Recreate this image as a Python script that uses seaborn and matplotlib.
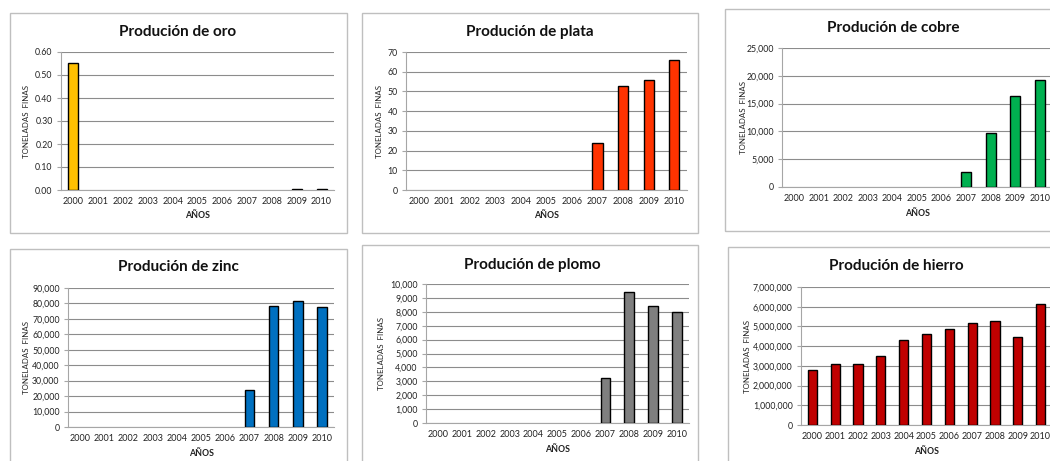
import matplotlib
matplotlib.use("Agg")
import matplotlib.pyplot as plt
from matplotlib.patches import Rectangle
from matplotlib.ticker import FuncFormatter, MultipleLocator
import pandas as pd
import seaborn as sns

years = ["2000", "2001", "2002", "2003", "2004", "2005",
         "2006", "2007", "2008", "2009", "2010"]

oro = [0.55, 0, 0, 0, 0, 0, 0, 0, 0, 0.004, 0.004]
plata = [0, 0, 0, 0, 0, 0, 0, 24, 53, 56, 66]
cobre = [0, 0, 0, 0, 0, 0, 0, 2700, 9700, 16400, 19250]
zinc = [0, 0, 0, 0, 0, 0, 0, 23900, 78300, 81800, 77400]
plomo = [0, 0, 0, 0, 0, 0, 0, 3250, 9450, 8400, 7950]
hierro = [2800000, 3100000, 3100000, 3525000, 4320000, 4640000,
          4860000, 5195000, 5280000, 4470000, 6160000]

sns.set_theme(style="white")
plt.rcParams["font.family"] = ["Lato", "DejaVu Sans"]

W, H = 1050, 461
fig = plt.figure(figsize=(W / 100, H / 100), dpi=100)
fig.patch.set_facecolor("white")


def fx(px):
    return px / W


def fy(py):
    return 1 - py / H


# (title, values, colour, y max, y step, formatter,
#  plot box [left, top, right, bottom] px, frame [left, top, right, bottom] px,
#  title centre x px, title y px, ylabel x px)
panels = [
    ("Produción de oro", oro, "#FFC000", 0.60, 0.10, "{:.2f}",
     (61, 52, 334, 190), (10, 13, 347, 233), 178, 32, 27),
    ("Produción de plata", plata, "#FF3300", 70, 10, "{:,.0f}",
     (406, 52, 687, 190), (362, 13, 698, 233), 530, 32, 380),
    ("Produción de cobre", cobre, "#00B050", 25000, 5000, "{:,.0f}",
     (782, 48, 1052, 187), (725, 9, 1070, 231), 893, 28, 743),
    ("Produción de zinc", zinc, "#0070C0", 90000, 10000, "{:,.0f}",
     (68, 288, 334, 427), (10, 249, 347, 480), 178, 267, 27),
    ("Produción de plomo", plomo, "#7F7F7F", 10000, 1000, "{:,.0f}",
     (426, 284, 689, 423), (362, 245, 698, 480), 532, 265, 382),
    ("Produción de hierro", hierro, "#C00000", 7000000, 1000000, "{:,.0f}",
     (801, 287, 1052, 425), (728, 247, 1070, 480), 896, 266, 747),
]

grid_c = "#8C8C8C"
axis_c = "#A6A6A6"

for (title, vals, col, ymax, step, fmt, pbox, frame, tx, ty, ylx) in panels:
    # chart frame
    fl, ft, fr, fb = frame
    fig.add_artist(Rectangle((fx(fl), fy(fb)), fx(fr - fl), (fb - ft) / H,
                             transform=fig.transFigure, fill=False,
                             edgecolor="#BFBFBF", linewidth=1.0))

    l, t, r, b = pbox
    ax = fig.add_axes([fx(l), fy(b), fx(r - l), (b - t) / H])
    df = pd.DataFrame({"year": years, "value": vals})
    df = df[df["value"] > 0]
    sns.barplot(data=df, x="year", y="value", order=years, color=col,
                width=0.4, edgecolor="black", linewidth=1.0,
                saturation=1, ax=ax, zorder=3)

    ax.set_xlim(-0.5, len(years) - 0.5)
    ax.set_ylim(0, ymax)
    ax.yaxis.set_major_locator(MultipleLocator(step))
    ax.yaxis.set_major_formatter(FuncFormatter(lambda v, p, f=fmt: f.format(v)))
    ax.set_facecolor("white")
    ax.grid(axis="y", color=grid_c, linewidth=0.8, zorder=0)
    ax.set_axisbelow(True)
    for s in ("top", "right"):
        ax.spines[s].set_visible(False)
    for s in ("left", "bottom"):
        ax.spines[s].set_color(axis_c)
        ax.spines[s].set_linewidth(0.8)
    ax.tick_params(axis="y", length=3, width=0.8, color=axis_c,
                   labelsize=6.3, labelcolor="#222222", pad=3, left=True)
    ax.tick_params(axis="x", length=0, labelsize=6.5, labelcolor="#222222", pad=5)
    ax.set_xlabel("AÑOS", fontsize=6.3, fontweight="bold", color="#222222",
                  labelpad=4)
    ax.set_ylabel("")

    fig.text(fx(ylx), fy((t + b) / 2), "TONELADAS  FINAS", rotation=90,
             fontsize=5.7, color="#222222", ha="center", va="center")
    fig.text(fx(tx), fy(ty), title, fontsize=11, fontweight="bold",
             color="#111111", ha="center", va="center")

fig.savefig("out.png", dpi=100, facecolor="white")
